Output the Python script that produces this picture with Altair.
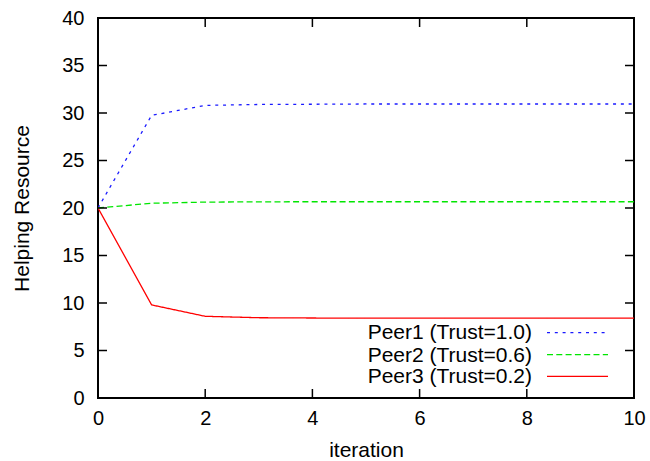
import altair as alt
import pandas as pd

iterations = list(range(11))
peer1 = [20, 29.75, 30.8, 30.9, 30.92, 30.95, 30.95, 30.95, 30.95, 30.95, 30.95]
peer2 = [20, 20.5, 20.62, 20.65, 20.66, 20.66, 20.66, 20.66, 20.66, 20.66, 20.66]
peer3 = [20, 9.8, 8.6, 8.45, 8.42, 8.4, 8.4, 8.4, 8.4, 8.4, 8.4]
series_labels = ["Peer1 (Trust=1.0)", "Peer2 (Trust=0.6)", "Peer3 (Trust=0.2)"]
colors = ["#1a1aff", "#00e600", "#ff0000"]
dashes = [[3, 4.8], [6, 3.3], [1, 0]]
x_ticks = [0, 2, 4, 6, 8, 10]
y_ticks = [0, 5, 10, 15, 20, 25, 30, 35, 40]

W, H = 536, 380
FONT = "Liberation Sans"
FS = 20
FS_TEXT = 21

rows = []
for lab, vals in zip(series_labels, [peer1, peer2, peer3]):
    for it, v in zip(iterations, vals):
        rows.append({"iteration": it, "value": v, "series": lab})
df = pd.DataFrame(rows)

xscale = alt.Scale(domain=[0, 10], nice=False, zero=False)
yscale = alt.Scale(domain=[0, 40], nice=False, zero=False)
x_axis = alt.Axis(values=x_ticks, labelPadding=10, labelFlush=False,
                  labelOverlap=False, titleY=52, titleBaseline="middle")
y_axis = alt.Axis(values=y_ticks, labelPadding=14, labelFlush=False,
                  labelOverlap=False, titleX=-76, titleY=H / 2,
                  titleAngle=270, titleBaseline="middle", titleAlign="center")
X_TITLE = "iteration"
Y_TITLE = "Helping Resource"

lines = alt.Chart(df).mark_line(strokeWidth=1.3, clip=True).encode(
    x=alt.X("iteration:Q", scale=xscale, title=X_TITLE, axis=x_axis),
    y=alt.Y("value:Q", scale=yscale, title=Y_TITLE, axis=y_axis),
    color=alt.Color("series:N", scale=alt.Scale(domain=series_labels, range=colors), legend=None),
    strokeDash=alt.StrokeDash("series:N", scale=alt.Scale(domain=series_labels, range=dashes), legend=None),
    detail="series:N",
)

ydf = pd.DataFrame({"v": y_ticks})
xdf = pd.DataFrame({"v": x_ticks})
tick_len = 9
tick_style = dict(color="black", strokeWidth=1.5)
yt_left = alt.Chart(ydf).mark_rule(**tick_style).encode(
    y=alt.Y("v:Q", scale=yscale, title=Y_TITLE, axis=y_axis), x=alt.value(0), x2=alt.value(tick_len))
yt_right = alt.Chart(ydf).mark_rule(**tick_style).encode(
    y=alt.Y("v:Q", scale=yscale, title=Y_TITLE, axis=y_axis), x=alt.value(W), x2=alt.value(W - tick_len))
xt_bot = alt.Chart(xdf).mark_rule(**tick_style).encode(
    x=alt.X("v:Q", scale=xscale, title=X_TITLE, axis=x_axis), y=alt.value(H), y2=alt.value(H - tick_len))
xt_top = alt.Chart(xdf).mark_rule(**tick_style).encode(
    x=alt.X("v:Q", scale=xscale, title=X_TITLE, axis=x_axis), y=alt.value(0), y2=alt.value(tick_len))

legend_layers = []
text_base = [321, 343.5, 365]
sample_y = [314.7, 336.7, 358.3]
for i, lab in enumerate(series_labels):
    ldf = pd.DataFrame({"label": [lab]})
    legend_layers.append(
        alt.Chart(ldf).mark_text(align="right", baseline="alphabetic", font=FONT,
                                 fontSize=FS_TEXT, color="black").encode(
            text="label:N", x=alt.value(434), y=alt.value(text_base[i]))
    )
    legend_layers.append(
        alt.Chart(ldf).mark_rule(strokeWidth=1.3, color=colors[i],
                                 strokeDash=dashes[i]).encode(
            x=alt.value(449), x2=alt.value(510), y=alt.value(sample_y[i]))
    )

chart = alt.layer(lines, yt_left, yt_right, xt_bot, xt_top, *legend_layers).properties(
    width=W, height=H,
    autosize=alt.AutoSizeParams(type="none"),
    padding={"left": 98, "top": 18, "right": 16, "bottom": 63},
    background="white",
).configure_view(
    stroke="black", strokeWidth=2
).configure_axis(
    grid=False, domain=False, ticks=False,
    labelFont=FONT, labelFontSize=FS, labelColor="black",
    titleFont=FONT, titleFontSize=FS_TEXT, titleFontWeight="normal", titleColor="black",
)

chart.save("out.html", embed_options={"renderer": "svg", "actions": False})
